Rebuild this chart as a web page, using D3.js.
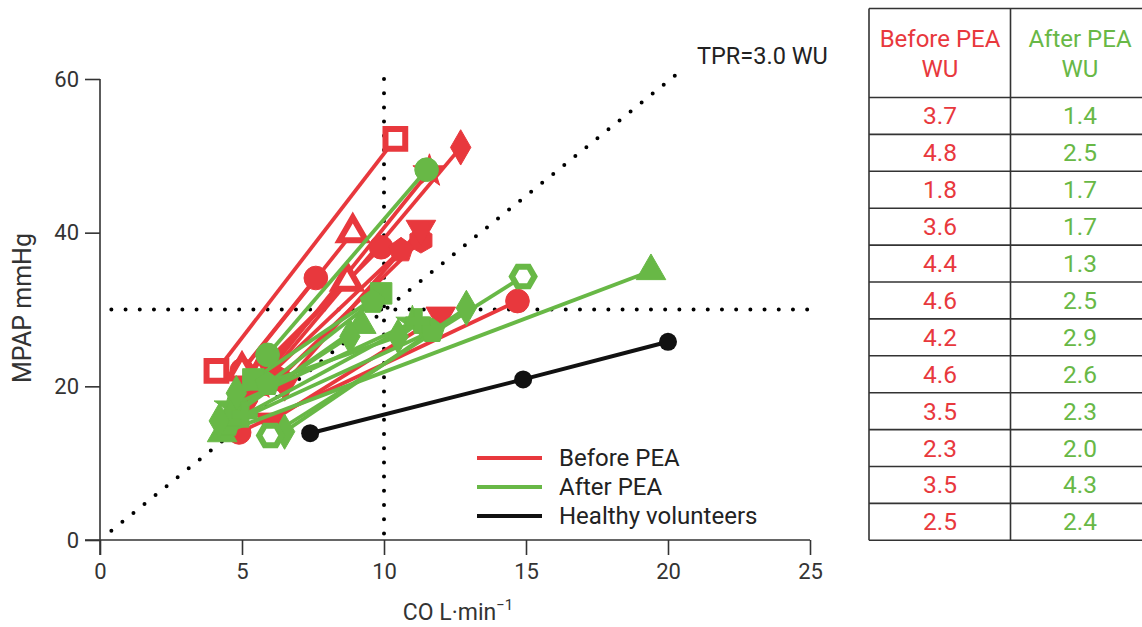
<!DOCTYPE html>
<html><head><meta charset="utf-8">
<script src="https://cdn.jsdelivr.net/npm/d3@7"></script>
<style>body{margin:0;background:#fff}svg{display:block}text{font-family:Roboto,"DejaVu Sans",sans-serif}</style>
</head><body><svg id="c" width="1142" height="627"></svg>
<script>
// ---- data ----
const xTicks = [0,5,10,15,20,25];
const yTicks = [0,20,40,60];
// before PEA (rest -> exercise)
const beforeRestCO  = [5.3, 4.1, 4.9, 6.3, 5.2, 5.6, 6.5, 5.0, 5.6, 6.0, 5.0, 5.6];
const beforeRestPAP = [21.1,22.0,14.0,21.0,18.1,20.4,20.3,22.1,20.2,15.4,22.0,21.5];
const beforeExCO    = [9.9, 10.4,14.7,11.3,12.7,11.6,11.3,7.6, 10.6,12.0,8.9, 8.7];
const beforeExPAP   = [38.1,52.2,31.1,39.0,51.1,48.0,40.5,34.1,37.7,29.2,40.0,33.7];
const beforeShape   = ["circle","squareOpen","circle","hexagon","diamond","star","triDown","circle","pentagon","triDown","triOpen","triOpen"];
// after PEA (rest -> exercise)
const afterRestCO   = [4.3, 6.5, 4.5, 4.6, 4.8, 5.4, 5.9, 4.6, 6.0, 5.1, 5.9, 4.2];
const afterRestPAP  = [13.9,14.1,15.0,17.4,19.1,20.9,20.3,16.0,13.6,16.3,24.1,15.5];
const afterExCO     = [19.4,12.9,11.7,11.0,10.5,9.9, 9.6, 9.2, 14.9,11.2,11.5,8.8];
const afterExPAP    = [35.0,30.2,27.2,28.3,26.5,32.1,31.0,28.0,34.3,28.5,48.2,26.5];
const afterShape    = ["triangle","diamond","pentagon","star","diamond","square","pentagon","triangle","hexOpen","cross","circle","diamond"];
// healthy volunteers
const healthyCO  = [7.4, 14.9, 20.0];
const healthyPAP = [13.9, 20.9, 25.8];
// TPR table
const tprBefore = ["3.7","4.8","1.8","3.6","4.4","4.6","4.2","4.6","3.5","2.3","3.5","2.5"];
const tprAfter  = ["1.4","2.5","1.7","1.7","1.3","2.5","2.9","2.6","2.3","2.0","4.3","2.4"];
const legendLabels = ["Before PEA","After PEA","Healthy volunteers"];

const RED = "#e8383d", GREEN = "#68b846", BLACK = "#111";
const svg = d3.select("#c");
const x = d3.scaleLinear().domain([0,25]).range([100,810]);
const y = d3.scaleLinear().domain([0,60]).range([540,79]);

// axes
const xa = svg.append("g").attr("transform","translate(0,540)")
  .call(d3.axisBottom(x).tickValues(xTicks).tickSize(15).tickPadding(8));
xa.select(".domain").attr("d","M85,0H810");
const ya = svg.append("g").attr("transform","translate(100,0)")
  .call(d3.axisLeft(y).tickValues(yTicks).tickSize(15).tickPadding(6));
ya.select(".domain").attr("d","M0,79V555");
svg.selectAll(".tick text").attr("font-size",22).attr("fill","#333");
svg.selectAll(".domain,.tick line").attr("stroke","#333").attr("stroke-width",1.6);
xa.selectAll(".tick").filter(d=>d===0).select("line").attr("y1",0);

svg.append("text").attr("x",458).attr("y",620).attr("text-anchor","middle").attr("font-size",23).attr("fill","#333")
  .html('CO L·min<tspan dy="-10" font-size="15">−1</tspan>');
svg.append("text").attr("transform","translate(31,308) rotate(-90)").attr("text-anchor","middle")
  .attr("font-size",25).attr("fill","#333").text("MPAP mmHg");

// dotted reference lines
const dot = sel => sel.attr("stroke","#000").attr("stroke-width",4).attr("stroke-linecap","round").attr("stroke-dasharray","0,14.2").attr("fill","none");
svg.append("line").attr("x1",x(10)).attr("x2",x(10)).attr("y1",y(60)).attr("y2",y(0)).call(dot);
svg.append("line").attr("x1",x(0.4)).attr("x2",x(25)).attr("y1",y(30)).attr("y2",y(30)).call(dot);
svg.append("line").attr("x1",x(0.4)).attr("x2",x(20.6)).attr("y1",y(1.2)).attr("y2",y(61.5)).call(dot);
svg.append("text").attr("x",697).attr("y",64).attr("font-size",23.5).attr("fill","#222").text("TPR=3.0 WU");

// symbols
function poly(n){ return { draw(ctx,size){ const r=Math.sqrt(size/(n*0.5*Math.sin(2*Math.PI/n)));
  for(let i=0;i<n;i++){ const a=-Math.PI/2+2*Math.PI*i/n; const px=r*Math.cos(a), py=r*Math.sin(a); i?ctx.lineTo(px,py):ctx.moveTo(px,py);} ctx.closePath(); } }; }
const shapeDef = {
  circle:[d3.symbolCircle,440,false,0], square:[d3.symbolSquare,460,false,0], squareOpen:[d3.symbolSquare,520,true,0],
  diamond:[d3.symbolDiamond,360,false,0], triangle:[d3.symbolTriangle,380,false,0], triDown:[d3.symbolTriangle,380,false,180],
  triOpen:[d3.symbolTriangle,400,true,0], hexagon:[poly(6),420,false,0], hexOpen:[poly(6),440,true,30],
  pentagon:[poly(5),400,false,0], star:[d3.symbolStar,340,false,0], cross:[d3.symbolCross,340,false,0]
};
function marker(g, cx, cy, shape, color){
  const [t,s,open,rot] = shapeDef[shape];
  g.append("path").attr("d", d3.symbol().type(t).size(open? s*0.75 : s)())
   .attr("transform",`translate(${cx},${cy}) rotate(${rot})`)
   .attr("fill", open? "#fff" : color).attr("stroke", color).attr("stroke-width", open? 6 : 1);
}

function series(restCO, restPAP, exCO, exPAP, shapes, color){
  const lg = svg.append("g"), mg = svg.append("g");
  restCO.forEach((_,i)=>{
    lg.append("path").attr("d", d3.line()([[x(restCO[i]),y(restPAP[i])],[x(exCO[i]),y(exPAP[i])]]))
      .attr("stroke",color).attr("stroke-width",3.8).attr("fill","none");
  });
  return () => restCO.forEach((_,i)=>{
    marker(mg, x(restCO[i]), y(restPAP[i]), shapes[i], color);
    marker(mg, x(exCO[i]), y(exPAP[i]), shapes[i], color);
  });
}
const mb = series(beforeRestCO,beforeRestPAP,beforeExCO,beforeExPAP,beforeShape,RED);
const ma = series(afterRestCO,afterRestPAP,afterExCO,afterExPAP,afterShape,GREEN);
mb(); ma();

// healthy
svg.append("path").attr("d", d3.line()(healthyCO.map((c,i)=>[x(c),y(healthyPAP[i])])))
  .attr("stroke",BLACK).attr("stroke-width",4).attr("fill","none");
svg.append("g").selectAll("circle").data(healthyCO).join("circle")
  .attr("cx",d=>x(d)).attr("cy",(d,i)=>y(healthyPAP[i])).attr("r",9).attr("fill",BLACK);

// legend
const legColors = [RED, GREEN, BLACK];
legendLabels.forEach((l,i)=>{
  const ly = 458 + i*29;
  svg.append("line").attr("x1",477).attr("x2",542).attr("y1",ly).attr("y2",ly).attr("stroke",legColors[i]).attr("stroke-width",4);
  svg.append("text").attr("x",559).attr("y",ly+8).attr("font-size",24).attr("fill","#222").text(l);
});

// table
const tb = svg.append("g");
const tL = 869, tM = 1010.5, tR = 1160, tTop = 8.5, hdrB = 97.5, rowH = 36.9;
const rowsY = d3.range(tprBefore.length+1).map(i=>hdrB + i*rowH);
const bottom = rowsY[rowsY.length-1];
[tTop, ...rowsY].forEach(yy=> tb.append("line").attr("x1",tL).attr("x2",tR).attr("y1",yy).attr("y2",yy).attr("stroke","#333").attr("stroke-width",1.6));
[tL, tM].forEach(xx=> tb.append("line").attr("x1",xx).attr("x2",xx).attr("y1",tTop).attr("y2",bottom).attr("stroke","#333").attr("stroke-width",1.6));
tb.append("text").attr("x",940).attr("y",47).attr("text-anchor","middle").attr("font-size",24).attr("fill",RED).text("Before PEA");
tb.append("text").attr("x",940).attr("y",77).attr("text-anchor","middle").attr("font-size",24).attr("fill",RED).text("WU");
tb.append("text").attr("x",1080).attr("y",47).attr("text-anchor","middle").attr("font-size",24).attr("fill",GREEN).text("After PEA");
tb.append("text").attr("x",1080).attr("y",77).attr("text-anchor","middle").attr("font-size",24).attr("fill",GREEN).text("WU");
tprBefore.forEach((v,i)=>{
  const cy = rowsY[i] + rowH/2 + 8.5;
  tb.append("text").attr("x",940).attr("y",cy).attr("text-anchor","middle").attr("font-size",24.5).attr("fill",RED).text(v);
  tb.append("text").attr("x",1080).attr("y",cy).attr("text-anchor","middle").attr("font-size",24.5).attr("fill",GREEN).text(tprAfter[i]);
});
</script></body></html>
